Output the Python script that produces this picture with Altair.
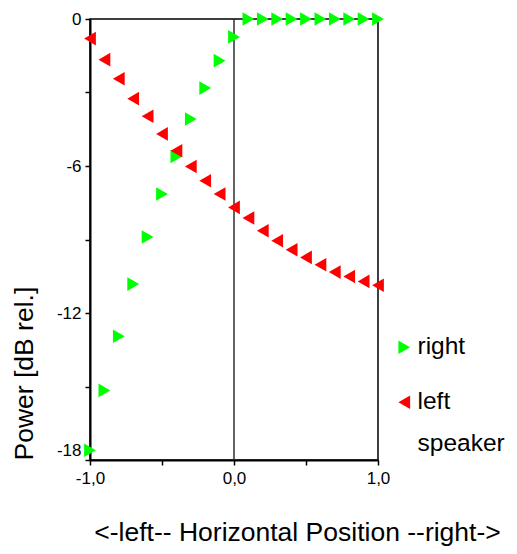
import altair as alt
import pandas as pd

positions = [-1.0, -0.9, -0.8, -0.7, -0.6, -0.5, -0.4, -0.3, -0.2, -0.1, 0.0,
             0.1, 0.2, 0.3, 0.4, 0.5, 0.6, 0.7, 0.8, 0.9, 1.0]
right_db = [-17.6, -15.16, -12.95, -10.82, -8.9, -7.14, -5.61, -4.08, -2.82, -1.7, -0.73,
            0.0, 0.0, 0.0, 0.0, 0.0, 0.0, 0.0, 0.0, 0.0, 0.0]
left_db = [-0.8, -1.66, -2.44, -3.25, -3.97, -4.69, -5.38, -6.02, -6.6, -7.14, -7.69,
           -8.12, -8.64, -9.05, -9.42, -9.73, -10.03, -10.33, -10.51, -10.71, -10.87]
series = ["right", "left speaker"]
colors = ["#00ff00", "#ff0000"]
shapes = ["triangle-right", "triangle-left"]
x_ticks = [-1.0, -0.75, -0.5, -0.25, 0.0, 0.25, 0.5, 0.75, 1.0]
y_ticks = [-18, -15, -12, -9, -6, -3, 0]

df = pd.DataFrame({
    "x": positions + positions,
    "y": right_db + left_db,
    "s": [series[0]] * len(positions) + [series[1]] * len(positions),
})

FONT = "Liberation Sans"

x_axis = alt.Axis(
    values=x_ticks,
    labelExpr="abs(datum.value % 1) < 1e-9 ? (datum.value < 0 ? '-' : '') + replace(format(abs(datum.value), '.1f'), '.', ',') : ''",
    title="<-left-- Horizontal Position --right->",
    titleX=207, titleY=80, titleAlign="center", titleBaseline="alphabetic",
    titleFontSize=26.5, titleFont=FONT, titleFontWeight="normal", titleColor="black",
    labelFontSize=17, labelFont=FONT, labelColor="black", labelPadding=5,
    labelFlush=False, labelOverlap=False,
    tickSize=5, tickColor="black", tickWidth=1.5,
    domainColor="black", domainWidth=2, grid=False,
)
y_axis = alt.Axis(
    values=y_ticks,
    labelExpr="datum.value % 6 == 0 ? (datum.value < 0 ? '-' : '') + format(abs(datum.value), 'd') : ''",
    labelOffset={"condition": {"test": "datum.value == -18", "value": -10}, "value": 0},
    title="Power [dB rel.]",
    titleAngle=270, titleX=-66, titleY=441, titleAlign="left", titleBaseline="middle",
    titleFontSize=26.5, titleFont=FONT, titleFontWeight="normal", titleColor="black",
    labelFontSize=17, labelFont=FONT, labelColor="black", labelPadding=4,
    labelFlush=False, labelOverlap=False,
    tickSize=5, tickColor="black", tickWidth=1.5,
    domainColor="black", domainWidth=2, grid=False,
)

legend_opts = dict(
    title=None, orient="none", legendX=302, legendY=316,
    labelFontSize=24.5, labelFont=FONT, labelColor="black",
    labelExpr="datum.label == 'left speaker' ? ['left', 'speaker'] : datum.label",
    labelBaseline="middle", labelOffset=1, rowPadding=30,
    symbolSize=185, symbolStrokeWidth=0, padding=0, labelLimit=200,
)

rule = alt.Chart(pd.DataFrame({"x0": [0.0]})).mark_rule(color="#222222", strokeWidth=1.4).encode(
    x=alt.X("x0:Q", scale=alt.Scale(domain=[-1, 1], nice=False))
)

points = alt.Chart(df).mark_point(filled=True, size=185, opacity=1).encode(
    x=alt.X("x:Q", scale=alt.Scale(domain=[-1, 1], nice=False), axis=x_axis),
    y=alt.Y("y:Q", scale=alt.Scale(domain=[-18, 0], nice=False), axis=y_axis),
    color=alt.Color("s:N", scale=alt.Scale(domain=series, range=colors),
                    legend=alt.Legend(**legend_opts)),
    shape=alt.Shape("s:N", scale=alt.Scale(domain=series, range=shapes),
                    legend=alt.Legend(**legend_opts)),
    order=alt.Order("s:N", sort="descending"),
)

chart = alt.layer(rule, points).properties(
    width=288, height=441,
    autosize=alt.AutoSizeParams(type="none"),
    padding={"left": 82, "top": 11, "right": 131, "bottom": 86},
).configure(
    style={"guide-label": {"lineHeight": 42}}
).configure_view(stroke="black", strokeWidth=1.5)

chart.save("out.html", embed_options={"renderer": "svg", "actions": False})
